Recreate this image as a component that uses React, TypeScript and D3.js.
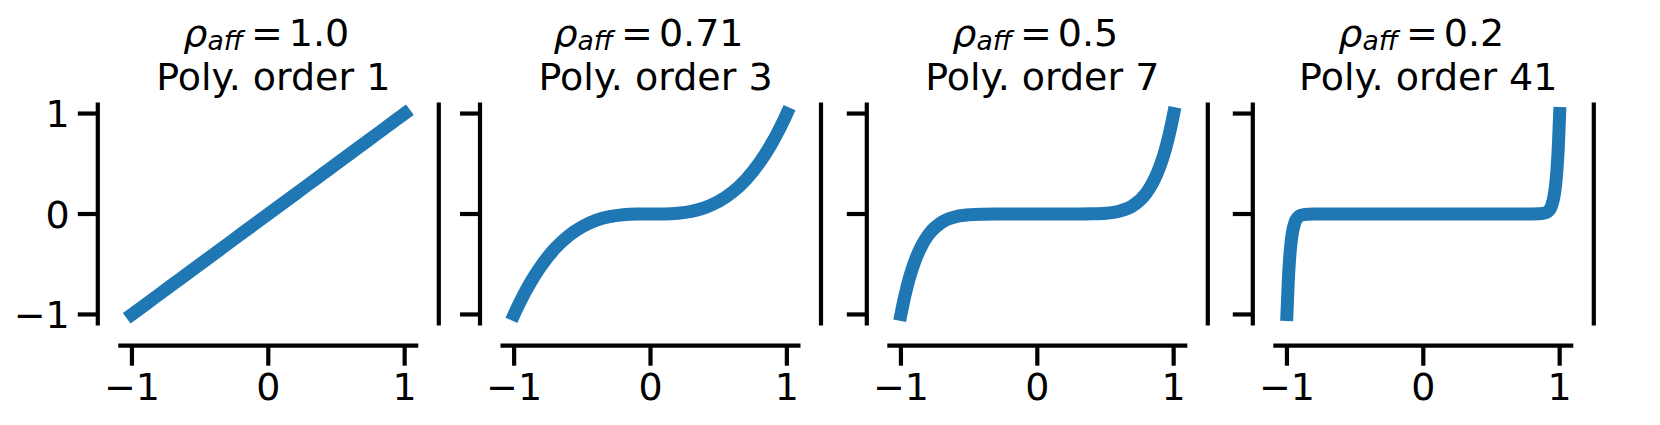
import React from "react";
import * as d3 from "d3";

// ---- data ----
const rhoLabels = ["1.0", "0.71", "0.5", "0.2"];
const polyOrders = [1, 3, 7, 41];
const xTicks = [-1, 0, 1];
const yTicks = [-1, 0, 1];

// sample positions along x (right half; left half mirrors with sign flip)
const xHalf = [0, 0.1, 0.2, 0.3, 0.4, 0.5, 0.6, 0.7, 0.8, 0.85, 0.9, 0.92, 0.94, 0.96, 0.97, 0.98, 0.99, 1];
const yOrder1 = [0, 0.1, 0.2, 0.3, 0.4, 0.5, 0.6, 0.7, 0.8, 0.85, 0.9, 0.92, 0.94, 0.96, 0.97, 0.98, 0.99, 1];
const yOrder3 = [0, 0.001, 0.008, 0.027, 0.064, 0.125, 0.216, 0.343, 0.512, 0.614, 0.729, 0.779, 0.831, 0.885, 0.913, 0.941, 0.970, 1];
const yOrder7 = [0, 0, 0, 0.0002, 0.002, 0.008, 0.028, 0.082, 0.21, 0.321, 0.478, 0.558, 0.648, 0.751, 0.808, 0.868, 0.932, 1];
const yOrder41 = [0, 0, 0, 0, 0, 0, 0, 0, 0.0001, 0.0013, 0.013, 0.033, 0.079, 0.188, 0.287, 0.437, 0.662, 1];
const seriesY = [yOrder1, yOrder3, yOrder7, yOrder41];

// ---- layout ----
const W = 1660;
const H = 425;
const axesLefts = [118.3, 500.5, 887.3, 1273.3];
const axesWidth = 300;
const axesTop = 103.5;
const axesBottom = 324.5;
const spineOffset = 20.5;
const tickLen = 20;
const fontSize = 38;
const font = "'DejaVu Sans', sans-serif";
const blue = "#1f77b4";

function buildPoints(ys: number[]) {
  const pts: [number, number][] = [];
  for (let i = xHalf.length - 1; i > 0; i--) pts.push([-xHalf[i], -ys[i]]);
  for (let i = 0; i < xHalf.length; i++) pts.push([xHalf[i], ys[i]]);
  return pts;
}

function fmt(t: number) {
  return t < 0 ? "\u2212" + Math.abs(t) : String(t);
}

function Panel({ idx }: { idx: number }) {
  const left = axesLefts[idx];
  const x = d3.scaleLinear().domain([-1.1, 1.1]).range([left, left + axesWidth]);
  const y = d3.scaleLinear().domain([-1.1, 1.1]).range([axesBottom, axesTop]);
  const line = d3
    .line<[number, number]>()
    .x((d) => x(d[0]))
    .y((d) => y(d[1]))
    .curve(d3.curveMonotoneX);
  const pts = buildPoints(seriesY[idx]);
  const leftSpineX = left - spineOffset;
  const rightSpineX = left + axesWidth + spineOffset;
  const bottomSpineY = axesBottom + spineOffset + 0.7;
  const cx = left + axesWidth / 2;
  return (
    <g>
      {/* title */}
      <text x={cx - 2} y={46} textAnchor="middle" fontFamily={font} fontSize={fontSize} fill="#000">
        <tspan fontStyle="italic">ρ</tspan>
        <tspan fontStyle="italic" fontSize={fontSize * 0.7} dy={4}>aff</tspan>
        <tspan dy={-4} dx={8}>=</tspan>
        <tspan dx={6}>{rhoLabels[idx]}</tspan>
      </text>
      <text x={cx + 5} y={89.5} textAnchor="middle" fontFamily={font} fontSize={fontSize} fill="#000">
        {`Poly. order ${polyOrders[idx]}`}
      </text>
      {/* curve */}
      <path d={line(pts) || ""} fill="none" stroke={blue} strokeWidth={13} strokeLinecap="square" strokeLinejoin="round" />
      {/* left spine */}
      <line x1={leftSpineX} x2={leftSpineX} y1={axesTop - 1} y2={axesBottom + 1} stroke="#000" strokeWidth={4.2} />
      {yTicks.map((t) => (
        <g key={"y" + t}>
          <line x1={leftSpineX - tickLen} x2={leftSpineX} y1={y(t)} y2={y(t)} stroke="#000" strokeWidth={4.2} />
          {idx === 0 && (
            <text x={leftSpineX - tickLen - 8} y={y(t) + 13.6} textAnchor="end" fontFamily={font} fontSize={fontSize} fill="#000">
              {fmt(t)}
            </text>
          )}
        </g>
      ))}
      {/* right spine */}
      <line x1={rightSpineX} x2={rightSpineX} y1={axesTop - 1} y2={axesBottom + 1} stroke="#000" strokeWidth={4.2} />
      {/* bottom spine */}
      <line x1={left} x2={left + axesWidth} y1={bottomSpineY} y2={bottomSpineY} stroke="#000" strokeWidth={4.2} />
      {xTicks.map((t) => (
        <g key={"x" + t}>
          <line x1={x(t)} x2={x(t)} y1={bottomSpineY} y2={bottomSpineY + tickLen} stroke="#000" strokeWidth={4.2} />
          <text x={x(t)} y={400} textAnchor="middle" fontFamily={font} fontSize={fontSize} fill="#000">
            {fmt(t)}
          </text>
        </g>
      ))}
    </g>
  );
}

export default function App() {
  return (
    <svg width={W} height={H} style={{ position: "absolute", left: 0, top: 0, background: "#fff" }}>
      <rect x={0} y={0} width={W} height={H} fill="#fff" />
      {polyOrders.map((_, i) => (
        <Panel key={i} idx={i} />
      ))}
    </svg>
  );
}
